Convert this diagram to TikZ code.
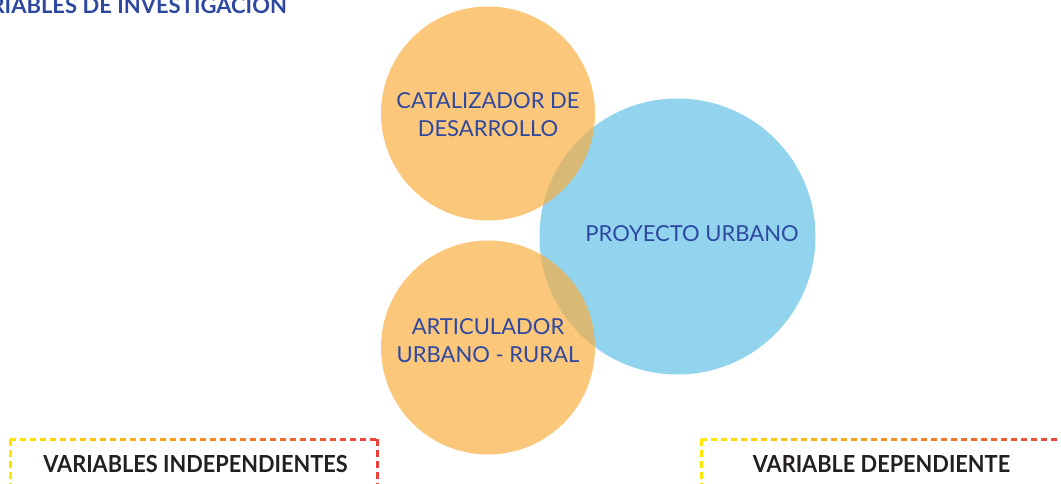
\documentclass[tikz,border=0pt]{standalone}
\usepackage{fontspec}
\setmainfont{Lato}
\newfontfamily\labelfont{Lato}[FakeStretch=0.925]
\usetikzlibrary{calc}
\definecolor{circorange}{RGB}{248,174,64}
\definecolor{circblue}{RGB}{146,211,238}
\definecolor{inkblue}{RGB}{46,72,160}
\definecolor{inkdark}{RGB}{35,31,32}
\definecolor{gyellow}{RGB}{255,230,0}
\definecolor{gred}{RGB}{236,64,58}
\begin{document}
\begin{tikzpicture}[x=1pt,y=-1pt,
    orangecircle/.style={circle,fill=circorange,fill opacity=.69,inner sep=0pt,minimum size=214pt},
    bluecircle/.style={circle,fill=circblue,inner sep=0pt,minimum size=276pt},
    circtext/.style={text=inkblue,align=center,inner sep=0pt,font=\fontsize{22}{28}\selectfont},
    vartext/.style={text=inkdark,inner sep=0pt,anchor=base,font=\labelfont\fontsize{23.5}{28}\selectfont\bfseries},
    dashbit/.style={line width=3pt}]
    \useasboundingbox (0,0) rectangle (1061,484);
    \def\boxw{367}
    % circles
    \node[bluecircle] (proy) at (677.5,236.5) {};
    \node[orangecircle] (cat) at (488,113.5) {};
    \node[orangecircle] (art) at (488,347.5) {};
    \node[circtext] (cattext) at (488,114.5) {CATALIZADOR DE\\DESARROLLO};
    \node[circtext] (arttext) at (488,341) {ARTICULADOR\\URBANO - RURAL};
    \node[circtext,anchor=base] (proytext) at (692,241) {PROYECTO URBANO};
    % title
    \node[text=inkblue,inner sep=0pt,anchor=base east,font=\fontsize{22}{24}\selectfont\bfseries] (titulo) at (287,14) {VARIABLES DE INVESTIGACION};
    % dashed boxes
    \foreach \bx/\nm in {10/indep,701/dep}{
        \coordinate (\nm) at (\bx,439);
        \foreach \i in {0,...,36}{
            \pgfmathtruncatemacro\t{100*\i/36}
            \draw[dashbit,gred!\t!gyellow] ($(\nm)+(\i*10,0)$) -- ++(6,0);
        }
        \foreach \j in {0,...,4}{
            \draw[dashbit,gyellow] ($(\nm)+(0,\j*11)$) -- ++(0,7);
            \draw[dashbit,gred] ($(\nm)+(\boxw,\j*11)$) -- ++(0,7);
        }
    }
    \node[vartext] (indeptext) at (195.5,472) {VARIABLES INDEPENDIENTES};
    \node[vartext] (deptext) at (881.5,472) {VARIABLE DEPENDIENTE};
\end{tikzpicture}
\end{document}
